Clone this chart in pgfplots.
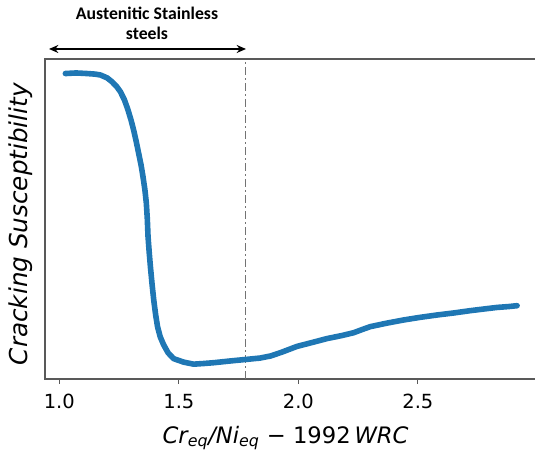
\documentclass[border=0pt]{standalone}
\usepackage{pgfplots}
\pgfplotsset{compat=1.18}
\usepackage{fontspec}
\setmainfont{DejaVu Sans}
\newfontfamily\carlito{Carlito}
\usetikzlibrary{arrows.meta}
\definecolor{mplblue}{HTML}{1F77B4}

\pgfplotstableread{
x      y
1.025  1.000
1.070  1.002
1.116  1.000
1.150  0.998
1.172  0.995
1.200  0.985
1.220  0.972
1.240  0.955
1.255  0.938
1.272  0.910
1.286  0.878
1.300  0.840
1.311  0.805
1.322  0.765
1.332  0.725
1.342  0.685
1.350  0.645
1.358  0.600
1.364  0.554
1.368  0.500
1.371  0.440
1.376  0.385
1.381  0.336
1.388  0.275
1.395  0.221
1.403  0.170
1.411  0.129
1.422  0.095
1.436  0.068
1.455  0.040
1.478  0.020
1.520  0.008
1.562  0.001
1.600  0.003
1.646  0.006
1.715  0.012
1.778  0.017
1.840  0.022
1.883  0.029
1.930  0.042
1.994  0.062
2.060  0.076
2.120  0.089
2.180  0.099
2.231  0.109
2.270  0.121
2.301  0.130
2.370  0.142
2.441  0.153
2.510  0.162
2.580  0.170
2.650  0.177
2.720  0.185
2.780  0.191
2.831  0.196
2.880  0.199
2.915  0.202
}\curvedata

\begin{document}
\begin{tikzpicture}
\path[use as bounding box] (0pt,0pt) rectangle (401.25pt,342pt);
\begin{axis}[
  at={(33.75pt,57.75pt)}, anchor=south west,
  scale only axis, width=372pt, height=240pt,
  xmin=0.94, xmax=3.015, ymin=-0.05, ymax=1.05,
  xtick={1.0,1.5,2.0,2.5}, xticklabels={1.0,1.5,2.0,2.5},
  ytick=\empty,
  xtick pos=bottom,
  tick align=outside, major tick length=3.75pt,
  axis line style={black!65, line width=0.8pt},
  every tick/.style={black!65, line width=0.8pt},
  ticklabel style={font=\fontsize{14.6}{17}\selectfont},
  xticklabel style={yshift=-4pt},
  /pgf/number format/assume math mode=true,
  xlabel={{\itshape Cr\textsubscript{eq}/Ni\textsubscript{eq}}\ {}−\ {}1992\,{\itshape WRC}},
  ylabel={\itshape Cracking Susceptibility},
  xlabel style={font=\fontsize{17}{20}\selectfont, at={(axis description cs:0.485,-0.184)}, anchor=center},
  ylabel style={font=\fontsize{18.5}{22}\selectfont, at={(axis description cs:-0.048,0.484)}, anchor=center},
  clip=false,
]
\addplot[draw=black!55, line width=1pt, dash pattern=on 6pt off 2.5pt on 1pt off 2.5pt] coordinates {(1.78,-0.05) (1.78,1.05)};
\addplot[mplblue, line width=4.2pt, line join=round, line cap=round] table[x=x,y=y] {\curvedata};
\end{axis}
\draw[{Stealth[length=7pt,width=6pt]}-{Stealth[length=7pt,width=6pt]}, line width=1.5pt] (36.75pt,305.25pt) -- (184.5pt,305.25pt);
\node[font=\carlito\bfseries\fontsize{13.3}{14.8}\selectfont, align=center] at (110.25pt,324.75pt) {Austenitic Stainless\\steels};
\end{tikzpicture}
\end{document}
